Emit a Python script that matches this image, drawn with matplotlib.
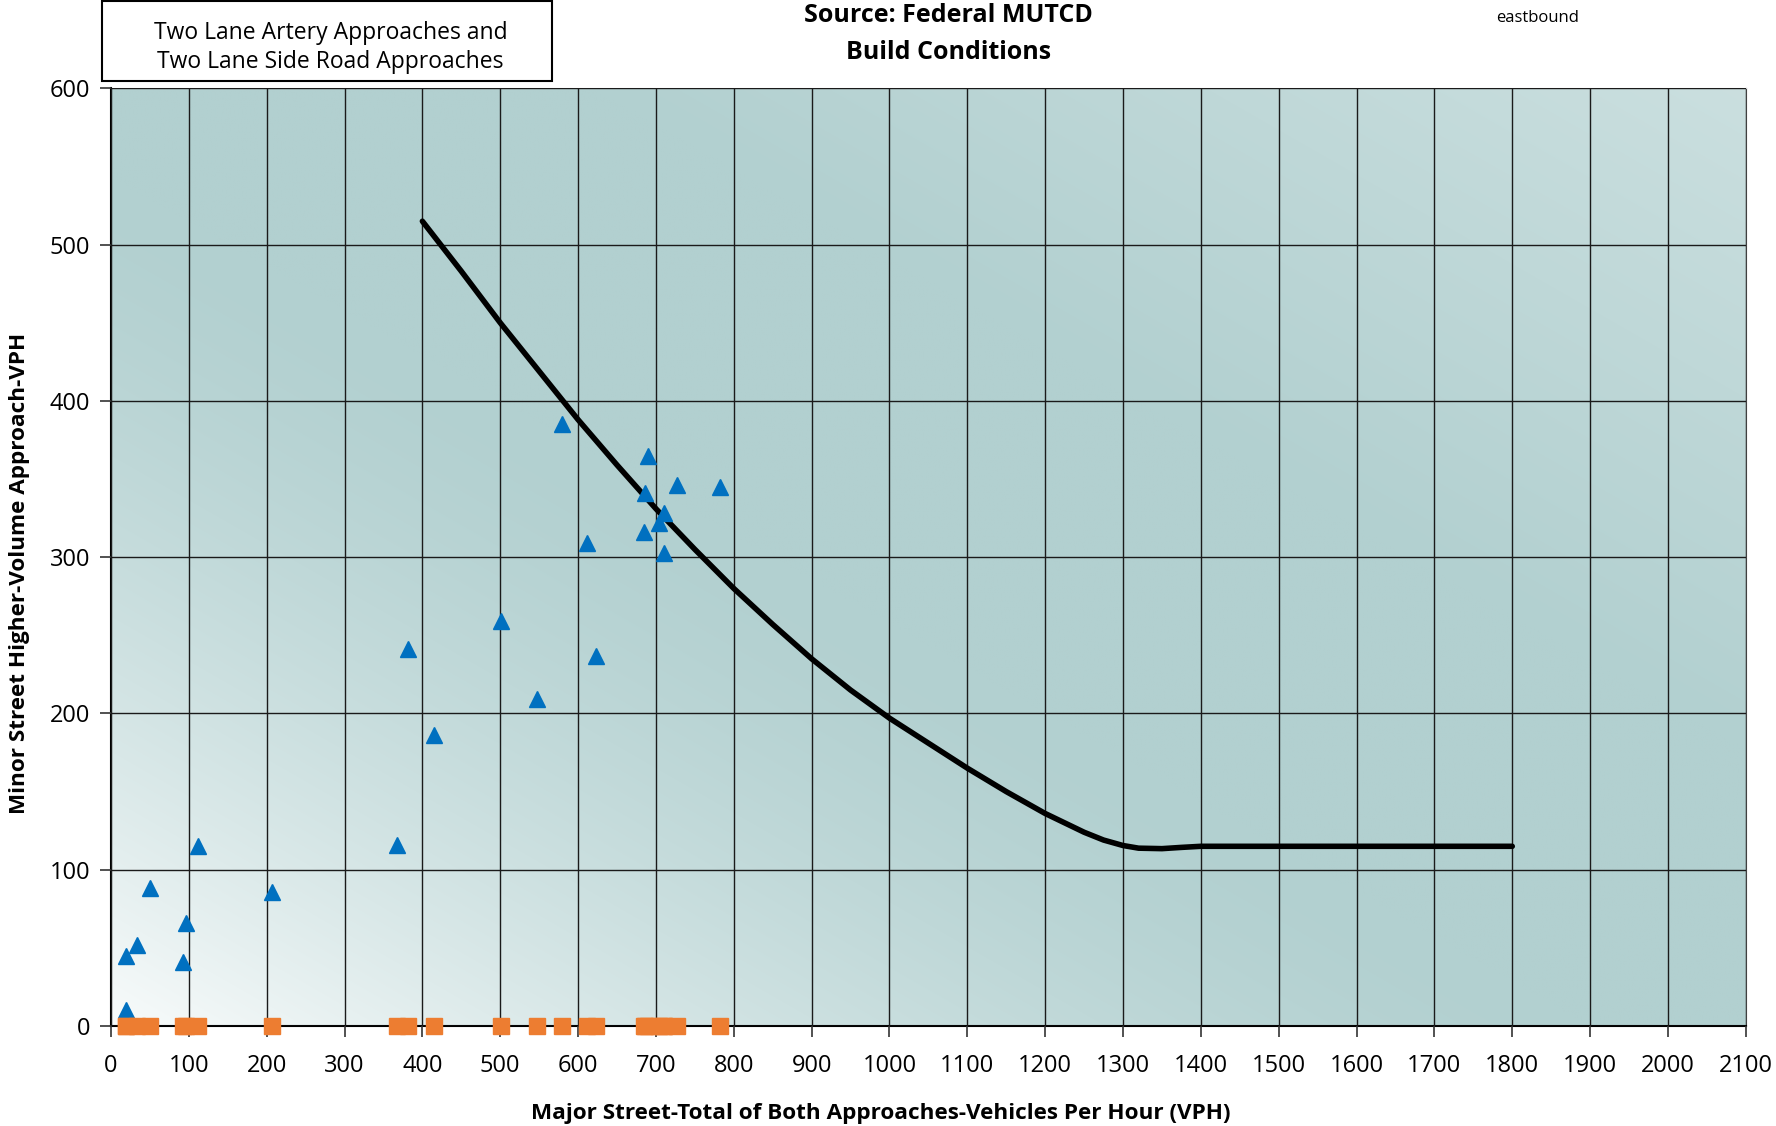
import matplotlib
matplotlib.use("Agg")
import matplotlib.pyplot as plt
import numpy as np
from matplotlib.patches import Rectangle

plt.rcParams['font.family'] = ['Open Sans', 'DejaVu Sans']

# major street volume (x) and minor street volume (y) for each study hour
major = [19, 19, 33, 50, 93, 96, 112, 207, 368, 381, 415, 501, 547, 579,
         611, 623, 685, 686, 690, 704, 711, 711, 727, 782]
minor = [10, 45, 52, 88, 41, 66, 115, 86, 116, 241, 186, 259, 209, 385,
         309, 237, 316, 341, 365, 322, 328, 303, 346, 345]
# second series sits on the axis (zero minor volume)
minor_other = [0, 0, 0, 0, 0, 0, 0, 0, 0, 0, 0, 0, 0, 0,
               0, 0, 0, 0, 0, 0, 0, 0, 0, 0]

# MUTCD warrant curve
curve_x = [400, 450, 500, 550, 600, 650, 700, 750, 800, 850, 900, 950, 1000,
           1050, 1100, 1150, 1200, 1250, 1275, 1300, 1320, 1350, 1375, 1400,
           1500, 1600, 1700, 1800]
curve_y = [515, 483, 450, 419, 388, 359, 331, 305, 280, 257, 235, 215, 197,
           181, 165, 150, 136, 124, 119, 115.5, 113.8, 113.5, 114.3, 115,
           115, 115, 115, 115]

xticks = list(range(0, 2101, 100))
yticks = list(range(0, 601, 100))

fig = plt.figure(figsize=(17.76, 11.26), dpi=100)
ax = fig.add_axes([0.0625, 0.0888, 0.9205, 0.8327])

# background gradient (white bottom-left -> teal)
u, v = np.meshgrid(np.linspace(0, 1, 300), np.linspace(0, 1, 300))
teal = np.array([178, 208, 208]) / 255
white = np.array([248, 251, 251]) / 255
w = np.clip(1 - (u + v) / 0.9, 0, 1) ** 1.5
l = np.clip((u + v - 1.3) / 0.7, 0, 1) * 0.35
img = teal + (white - teal) * (w + l)[..., None]
ax.imshow(img, extent=[0, 2100, 0, 600], origin='lower', aspect='auto',
          interpolation='bilinear', zorder=0)

ax.set_xlim(0, 2100)
ax.set_ylim(0, 600)
ax.set_xticks(xticks)
ax.set_yticks(yticks)
ax.grid(True, color='#1a1a1a', linewidth=1.0)
ax.set_axisbelow(False)
for gl in ax.get_xgridlines() + ax.get_ygridlines():
    gl.set_zorder(1)

ax.plot(curve_x, curve_y, color='black', linewidth=4.0, zorder=3,
        solid_capstyle='round', solid_joinstyle='round')
ax.plot(major, minor, linestyle='none', marker='^', markersize=12,
        color='#0070c0', zorder=4)
ax.plot(major, minor_other, linestyle='none', marker='s', markersize=11.5,
        color='#ed7d31', zorder=5, clip_on=False)

ax.tick_params(axis='both', direction='out', length=8, width=1.2,
               labelsize=17, color='#333333')
ax.tick_params(axis='x', pad=12)
ax.tick_params(axis='y', pad=7)
ax.spines['left'].set_color('black')
ax.spines['bottom'].set_color('black')
ax.spines['left'].set_linewidth(1.5)
ax.spines['bottom'].set_linewidth(1.5)
ax.spines['right'].set_color('#404040')
ax.spines['top'].set_color('#cccccc')

ax.set_xlabel('Major Street-Total of Both Approaches-Vehicles Per Hour (VPH)',
              fontsize=16.2, fontweight='bold')
ax.xaxis.set_label_coords(0.471, -0.082)
ax.set_ylabel('Minor Street Higher-Volume Approach-VPH',
              fontsize=16.2, fontweight='bold')
ax.yaxis.set_label_coords(-0.0495, 0.483)

fig.text(0.534, 0.986, 'Source: Federal MUTCD', ha='center', va='center',
         fontsize=18, fontweight='bold')
fig.text(0.534, 0.953, 'Build Conditions', ha='center', va='center',
         fontsize=18, fontweight='bold')
fig.text(0.866, 0.984, 'eastbound', ha='center', va='center', fontsize=12)

fig.patches.append(Rectangle((0.0575, 0.928), 0.2535, 0.0715,
                             transform=fig.transFigure, fill=False,
                             edgecolor='black', linewidth=1.5))
fig.text(0.186, 0.9705, 'Two Lane Artery Approaches and', ha='center',
         va='center', fontsize=16.5)
fig.text(0.186, 0.945, 'Two Lane Side Road Approaches', ha='center',
         va='center', fontsize=16.5)

fig.savefig('out.png', dpi=100)
